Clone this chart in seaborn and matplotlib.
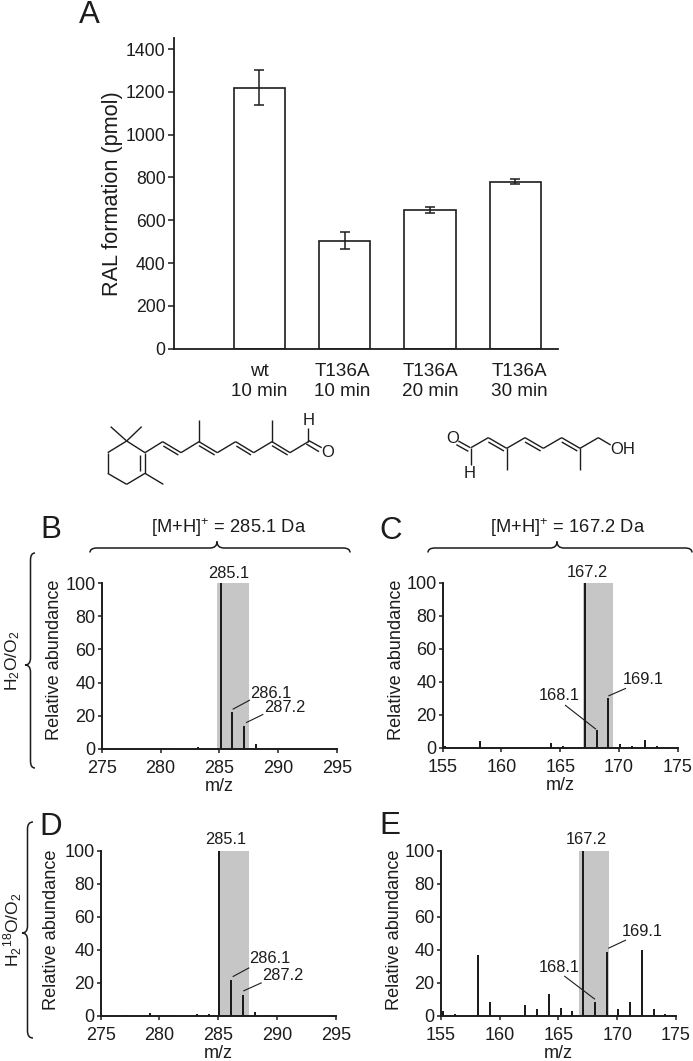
import numpy as np
import matplotlib
matplotlib.use("Agg")
import matplotlib.pyplot as plt
from matplotlib.path import Path
from matplotlib.patches import PathPatch
from matplotlib.transforms import ScaledTranslation
import seaborn as sns

# ---- data ----
bar_labels = ["wt\n10 min", "T136A\n10 min", "T136A\n20 min", "T136A\n30 min"]
bar_values = [1220, 505, 648, 780]
bar_errors = [83, 38, 16, 12]

mz_b = [281.2, 283.2, 285.1, 286.1, 287.1, 288.1, 289.1]
ab_b = [0.5, 1.2, 100, 22, 13.5, 3, 0.4]
mz_c = [155.2, 158.2, 159.2, 162.2, 164.2, 165.2, 167.1, 168.1, 169.1, 170.1, 171.1, 172.2, 173.2, 174.2]
ab_c = [1, 4.5, 0.5, 0.5, 3, 1.5, 100, 11, 30, 2.5, 1.5, 5, 1, 0.8]
mz_d = [277.2, 279.2, 280.2, 281.2, 283.2, 284.2, 285.1, 286.1, 287.1, 288.1, 289.1]
ab_d = [0.7, 2, 0.5, 0.7, 1.2, 1.3, 100, 22, 13, 2.5, 0.4]
mz_e = [155.2, 156.2, 158.2, 159.2, 162.2, 163.2, 164.2, 165.2, 166.2, 167.1, 168.1, 169.1, 170.1, 171.1, 172.1, 173.1, 174.1]
ab_e = [3, 1, 37, 8.5, 6.5, 4, 13.5, 5, 3, 100, 8.5, 39, 4, 8.5, 40, 4, 1]
ticks_hi = [275, 280, 285, 290, 295]
ticks_lo = [155, 160, 165, 170, 175]
ticks_y = [0, 20, 40, 60, 80, 100]
ticks_a = [0, 200, 400, 600, 800, 1000, 1200, 1400]

W, H = 693, 1061
INK = "#1c1c1c"
GRAY = "#c6c6c6"
sns.set_theme(style="ticks", rc={"axes.facecolor": "white", "figure.facecolor": "white"})
plt.rcParams["font.family"] = ["Liberation Sans", "DejaVu Sans"]
plt.rcParams.update({"mathtext.fontset": "custom", "mathtext.rm": "Liberation Sans",
                     "mathtext.default": "rm", "text.color": INK, "axes.labelcolor": INK,
                     "xtick.color": INK, "ytick.color": INK, "axes.edgecolor": INK})

fig = plt.figure(figsize=(W / 100, H / 100), dpi=100)


def make_ax(left, right, top, bottom):
    return fig.add_axes([left / W, 1 - bottom / H, (right - left) / W, (bottom - top) / H])


# ---- panel A ----
axA = make_ax(174, 558, 38.3, 348.7)
sns.barplot(x=bar_labels, y=bar_values, width=0.6, color="white", saturation=1,
            edgecolor=INK, linewidth=1.2, errorbar=None, ax=axA)
axA.errorbar(range(4), bar_values, yerr=bar_errors, fmt="none", ecolor=INK,
             elinewidth=1.1, capsize=3.4, capthick=1.1)
axA.set_xlim(-1.0, 3.5)
axA.set_ylim(0, 1450)
axA.set_yticks(ticks_a)
axA.tick_params(axis="y", length=4, width=1.1, labelsize=12.7, pad=2)
axA.tick_params(axis="x", length=0, labelsize=13.6, pad=10)
x_shift_px = [0, -2, 0, 4]
for lab, dx in zip(axA.get_xticklabels(), x_shift_px):
    lab.set_linespacing(1.25)
    lab.set_transform(lab.get_transform() + ScaledTranslation(dx / 100, 0, fig.dpi_scale_trans))
axA.set_ylabel("RAL formation (pmol)", fontsize=15.6, labelpad=2)
sns.despine(ax=axA)
for s in ("left", "bottom"):
    axA.spines[s].set_linewidth(1.3)


# ---- spectra ----
def spectrum(box, mz, ab, xt, span, ylab_center, ylab_pad):
    ax = make_ax(*box)
    ax.axvspan(span[0], span[1], color=GRAY, lw=0, zorder=0)
    w = 0.17 / np.diff(np.sort(mz)).min()
    sns.barplot(x=mz, y=ab, native_scale=True, width=w, color=INK, saturation=1,
                linewidth=0, errorbar=None, ax=ax, zorder=2)
    ax.set_xlim(xt[0], xt[-1])
    ax.set_ylim(0, 100)
    ax.set_xticks(xt)
    ax.set_yticks(ticks_y)
    ax.tick_params(axis="both", length=3, width=1.1, labelsize=13)
    ax.tick_params(axis="x", pad=5)
    ax.tick_params(axis="y", pad=1.5)
    ax.set_xlabel("m/z", fontsize=13, labelpad=1)
    ax.set_ylabel("Relative abundance", fontsize=13.1, labelpad=ylab_pad)
    ax.yaxis.label.set_y((box[3] - ylab_center) / (box[3] - box[2]))
    sns.despine(ax=ax)
    for s in ("left", "bottom"):
        ax.spines[s].set_linewidth(1.4)
    for sp in ax.spines.values():
        sp.set_zorder(5)
    return ax


spectrum((101.7, 337.3, 583.3, 748.7), mz_b, ab_b, ticks_hi, (284.8, 287.5), 659.7, 1.6)
spectrum((442.7, 677.7, 582.7, 748.0), mz_c, ab_c, ticks_lo, (166.9, 169.5), 659.7, 0.8)
spectrum((100.7, 335.7, 850.7, 1016.0), mz_d, ab_d, ticks_hi, (285.1, 287.6), 930, 3)
spectrum((440.7, 676.0, 850.7, 1016.0), mz_e, ab_e, ticks_lo, (166.75, 169.3), 930, 0.8)

# ---- overlay in pixel coordinates: letters, peak labels, braces, structures ----
ov = fig.add_axes([0, 0, 1, 1], zorder=10)
ov.set_xlim(0, W)
ov.set_ylim(H, 0)
ov.axis("off")
ov.patch.set_alpha(0)


def T(x, y, s, size=11.8, **kw):
    ov.text(x, y, s, fontsize=size, ha=kw.pop("ha", "center"), va=kw.pop("va", "center"), color=INK, **kw)


def L(x0, y0, x1, y1, lw=0.8):
    ov.plot([x0, x1], [y0, y1], color=INK, lw=lw, solid_capstyle="butt")


letters = [("A", 89, 15), ("B", 51, 530), ("C", 391, 531), ("D", 51, 827), ("E", 389.5, 826)]
for s, x, y in letters:
    T(x, y, s, size=22.5)

peak_labels = [("285.1", 229, 573.3), ("286.1", 270.7, 693.3), ("287.2", 285, 707.3),
               ("167.2", 587.3, 572.3), ("168.1", 559.3, 696), ("169.1", 643.3, 679.3),
               ("285.1", 225.7, 840), ("286.1", 269.3, 958.7), ("287.2", 283.3, 975),
               ("167.2", 586.7, 840), ("168.1", 559.3, 967.7), ("169.1", 642.3, 931)]
for s, x, y in peak_labels:
    T(x, y, s)

leaders = [(250, 700, 232.7, 709.3), (263.3, 714.3, 246, 722.7),
           (565, 705, 596, 729.3), (626, 688.3, 608.3, 696),
           (249.3, 967.7, 232.7, 976.7), (261.7, 982.7, 243.3, 991),
           (564.3, 976, 595, 999.3), (626, 940, 608.3, 948.3)]
for seg in leaders:
    L(*seg)

T(229, 528, "[M+H]$^{+}$ = 285.1 Da", size=13.2)
T(568, 528, "[M+H]$^{+}$ = 167.2 Da", size=13.2)
T(13, 661, "H$_{2}$O/O$_{2}$", size=12.6, rotation=90)
T(13, 930, "H$_{2}$$^{18}$O/O$_{2}$", size=12.6, rotation=90)


def brace(a0, a1, tip, base, end, tipc, horizontal):
    """Curly brace from a0 to a1 along one axis, straight run at `base`, hooks to `end`, tip to `tipc`."""
    r = 7
    pts = [(a0, end), (a0, base), (a0 + r, base), (tip - r, base), (tip, base), (tip, tipc),
           (tip, base), (tip + r, base), (a1 - r, base), (a1, base), (a1, end)]
    codes = [Path.MOVETO, Path.CURVE3, Path.CURVE3, Path.LINETO, Path.CURVE3, Path.CURVE3,
             Path.CURVE3, Path.CURVE3, Path.LINETO, Path.CURVE3, Path.CURVE3]
    if not horizontal:
        pts = [(q, p) for p, q in pts]
    ov.add_patch(PathPatch(Path(pts, codes), fill=False, ec=INK, lw=1.1))


brace(90, 350, 217, 548, 552.5, 541.5, True)
brace(428, 692, 557, 548, 552.5, 541.5, True)
brace(553, 768, 665, 30.5, 35, 25, False)
brace(822, 1038, 933, 27.5, 33, 22, False)

# structures: coordinates in the 3x crop, origin at (ox, oy)
ret_bonds = [(47, 65, 95, 108), (140, 65, 95, 108), (95, 108, 38, 143), (38, 143, 38, 205), (38, 205, 95, 238),
             (95, 238, 150, 205), (150, 205, 150, 143), (150, 143, 95, 108), (135, 150, 135, 198),
             (150, 205, 205, 238), (150, 143, 203, 110), (203, 110, 258, 143), (205, 123, 250, 150),
             (258, 143, 312, 110), (312, 110, 367, 143), (312, 122, 359, 150), (367, 143, 422, 110),
             (422, 110, 476, 143), (424, 123, 468, 150), (476, 143, 531, 110), (531, 110, 585, 143),
             (531, 122, 578, 150), (585, 143, 640, 110), (312, 110, 312, 45), (531, 110, 531, 45),
             (640, 110, 640, 70), (640, 106, 680, 128), (634, 117, 672, 140)]
ral_bonds = [(70, 78, 106, 98), (64, 89, 100, 109), (108, 98, 108, 150), (108, 98, 160, 68), (160, 68, 215, 100),
             (160, 81, 207, 108), (215, 100, 270, 68), (270, 68, 325, 100), (270, 81, 317, 108),
             (325, 100, 380, 68), (380, 68, 435, 100), (380, 81, 427, 108), (435, 100, 490, 68),
             (490, 68, 527, 90), (215, 100, 215, 165), (435, 100, 435, 165)]
for bonds, ox, oy in ((ret_bonds, 95, 405), (ral_bonds, 435, 415)):
    for b in bonds:
        L(ox + b[0] / 3, oy + b[1] / 3, ox + b[2] / 3, oy + b[3] / 3, lw=1.0)
T(95 + 640 / 3, 405 + 47 / 3, "H", size=12)
T(95 + 698 / 3, 405 + 143 / 3, "O", size=12)
T(435 + 52 / 3, 415 + 70 / 3, "O", size=12)
T(435 + 105 / 3, 415 + 175 / 3, "H", size=12)
T(435 + 562 / 3, 415 + 103 / 3, "OH", size=12)

fig.savefig("out.png", dpi=100)
